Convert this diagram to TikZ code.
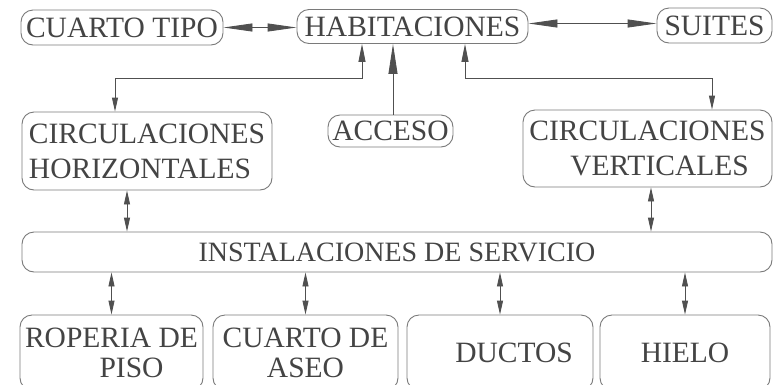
\documentclass[tikz,border=0pt]{standalone}
\usepackage{fontspec}
\newfontfamily\diagfont{Liberation Serif}
\usetikzlibrary{arrows.meta}
\definecolor{textgray}{HTML}{444444}
\definecolor{bordergray}{HTML}{7A7A7A}
\definecolor{linegray}{HTML}{505050}
\tikzset{
  bigtip/.tip={Triangle[length=29pt,width=8pt]},
  midtip/.tip={Triangle[length=18pt,width=7pt]},
  smalltip/.tip={Triangle[length=14pt,width=6pt]},
  acctip/.tip={Triangle[length=30pt,width=9pt]},
}
\begin{document}
\begin{tikzpicture}[x=1pt,y=-1pt,
  box/.style={draw=bordergray, line width=0.9pt, rounded corners=12pt, inner sep=0pt,
    text=textgray, font=\diagfont\fontsize{29.5}{35}\selectfont, align=center},
  lowbox/.style={box, minimum height=75pt, font=\diagfont\fontsize{29.5}{30}\selectfont},
  conn/.style={draw=linegray, line width=0.9pt},
]
\useasboundingbox (0,0) rectangle (780,384);
\clip (0,0) rectangle (780,384);
\fill[white] (0,0) rectangle (780,384);

% top row
\node[box, minimum width=202pt, minimum height=35pt] (ct) at (122,27.5) {CUARTO TIPO};
\node[box, minimum width=231pt, minimum height=34pt] (hab) at (412.5,26.5) {HABITACIONES};
\node[box, minimum width=115pt, minimum height=35pt] (su) at (714.5,25.5) {SUITES};

% middle row
\node[box, minimum width=250pt, minimum height=78pt, align=left] (ch) at (147,151) {CIRCULACIONES\\HORIZONTALES};
\node[box, minimum width=125pt, minimum height=32pt] (ac) at (390.5,131) {ACCESO};
\node[box, minimum width=249pt, minimum height=77pt] (cv) at (647.5,148.5) {CIRCULACIONES\\\hspace*{24pt}VERTICALES};

% services bar
\node[box, minimum width=750pt, minimum height=40pt, font=\diagfont\fontsize{28}{32}\selectfont] (is) at (397,252) {INSTALACIONES DE SERVICIO};

% bottom row
\node[lowbox, minimum width=183pt] (ro) at (111.5,352.5) {ROPERIA DE\\\hspace*{40pt}PISO};
\node[lowbox, minimum width=185pt] (ca) at (305.5,352.5) {CUARTO DE\\ASEO};
\node[lowbox, minimum width=186pt] (du) at (500,352.5) {\hspace*{28pt}DUCTOS};
\node[lowbox, minimum width=170pt] (hi) at (685,352.5) {HIELO};

% connectors
\draw[conn, {bigtip}-{bigtip}] (ct.east) -- (ct.east -| hab.west);
\draw[conn, {bigtip}-{bigtip}] ([yshift=3pt]hab.east) -- ([yshift=3pt]hab.east -| su.west);
\draw[conn, {midtip}-{smalltip}] ([xshift=-50.5pt]hab.south) -- ++(0,34.5) -| ([xshift=-32pt]ch.north);
\draw[conn, {midtip}-{smalltip}] ([xshift=52.5pt]hab.south) -- ++(0,34.5) -| ([xshift=64.5pt]cv.north);
\draw[conn, -{acctip}] ([xshift=2.5pt]ac.north) -- ([xshift=2.5pt]ac.north |- hab.south);
\draw[conn, {smalltip}-{smalltip}] ([xshift=-20pt]ch.south) -- ([xshift=-20pt]ch.south |- is.north);
\draw[conn, {smalltip}-{smalltip}] ([xshift=3.5pt]cv.south) -- ([xshift=3.5pt]cv.south |- is.north);
\draw[conn, {smalltip}-{smalltip}] (is.south -| ro.north) -- (ro.north);
\draw[conn, {smalltip}-{smalltip}] (is.south -| ca.north) -- (ca.north);
\draw[conn, {smalltip}-{smalltip}] (is.south -| du.north) -- (du.north);
\draw[conn, {smalltip}-{smalltip}] (is.south -| hi.north) -- (hi.north);
\end{tikzpicture}
\end{document}
